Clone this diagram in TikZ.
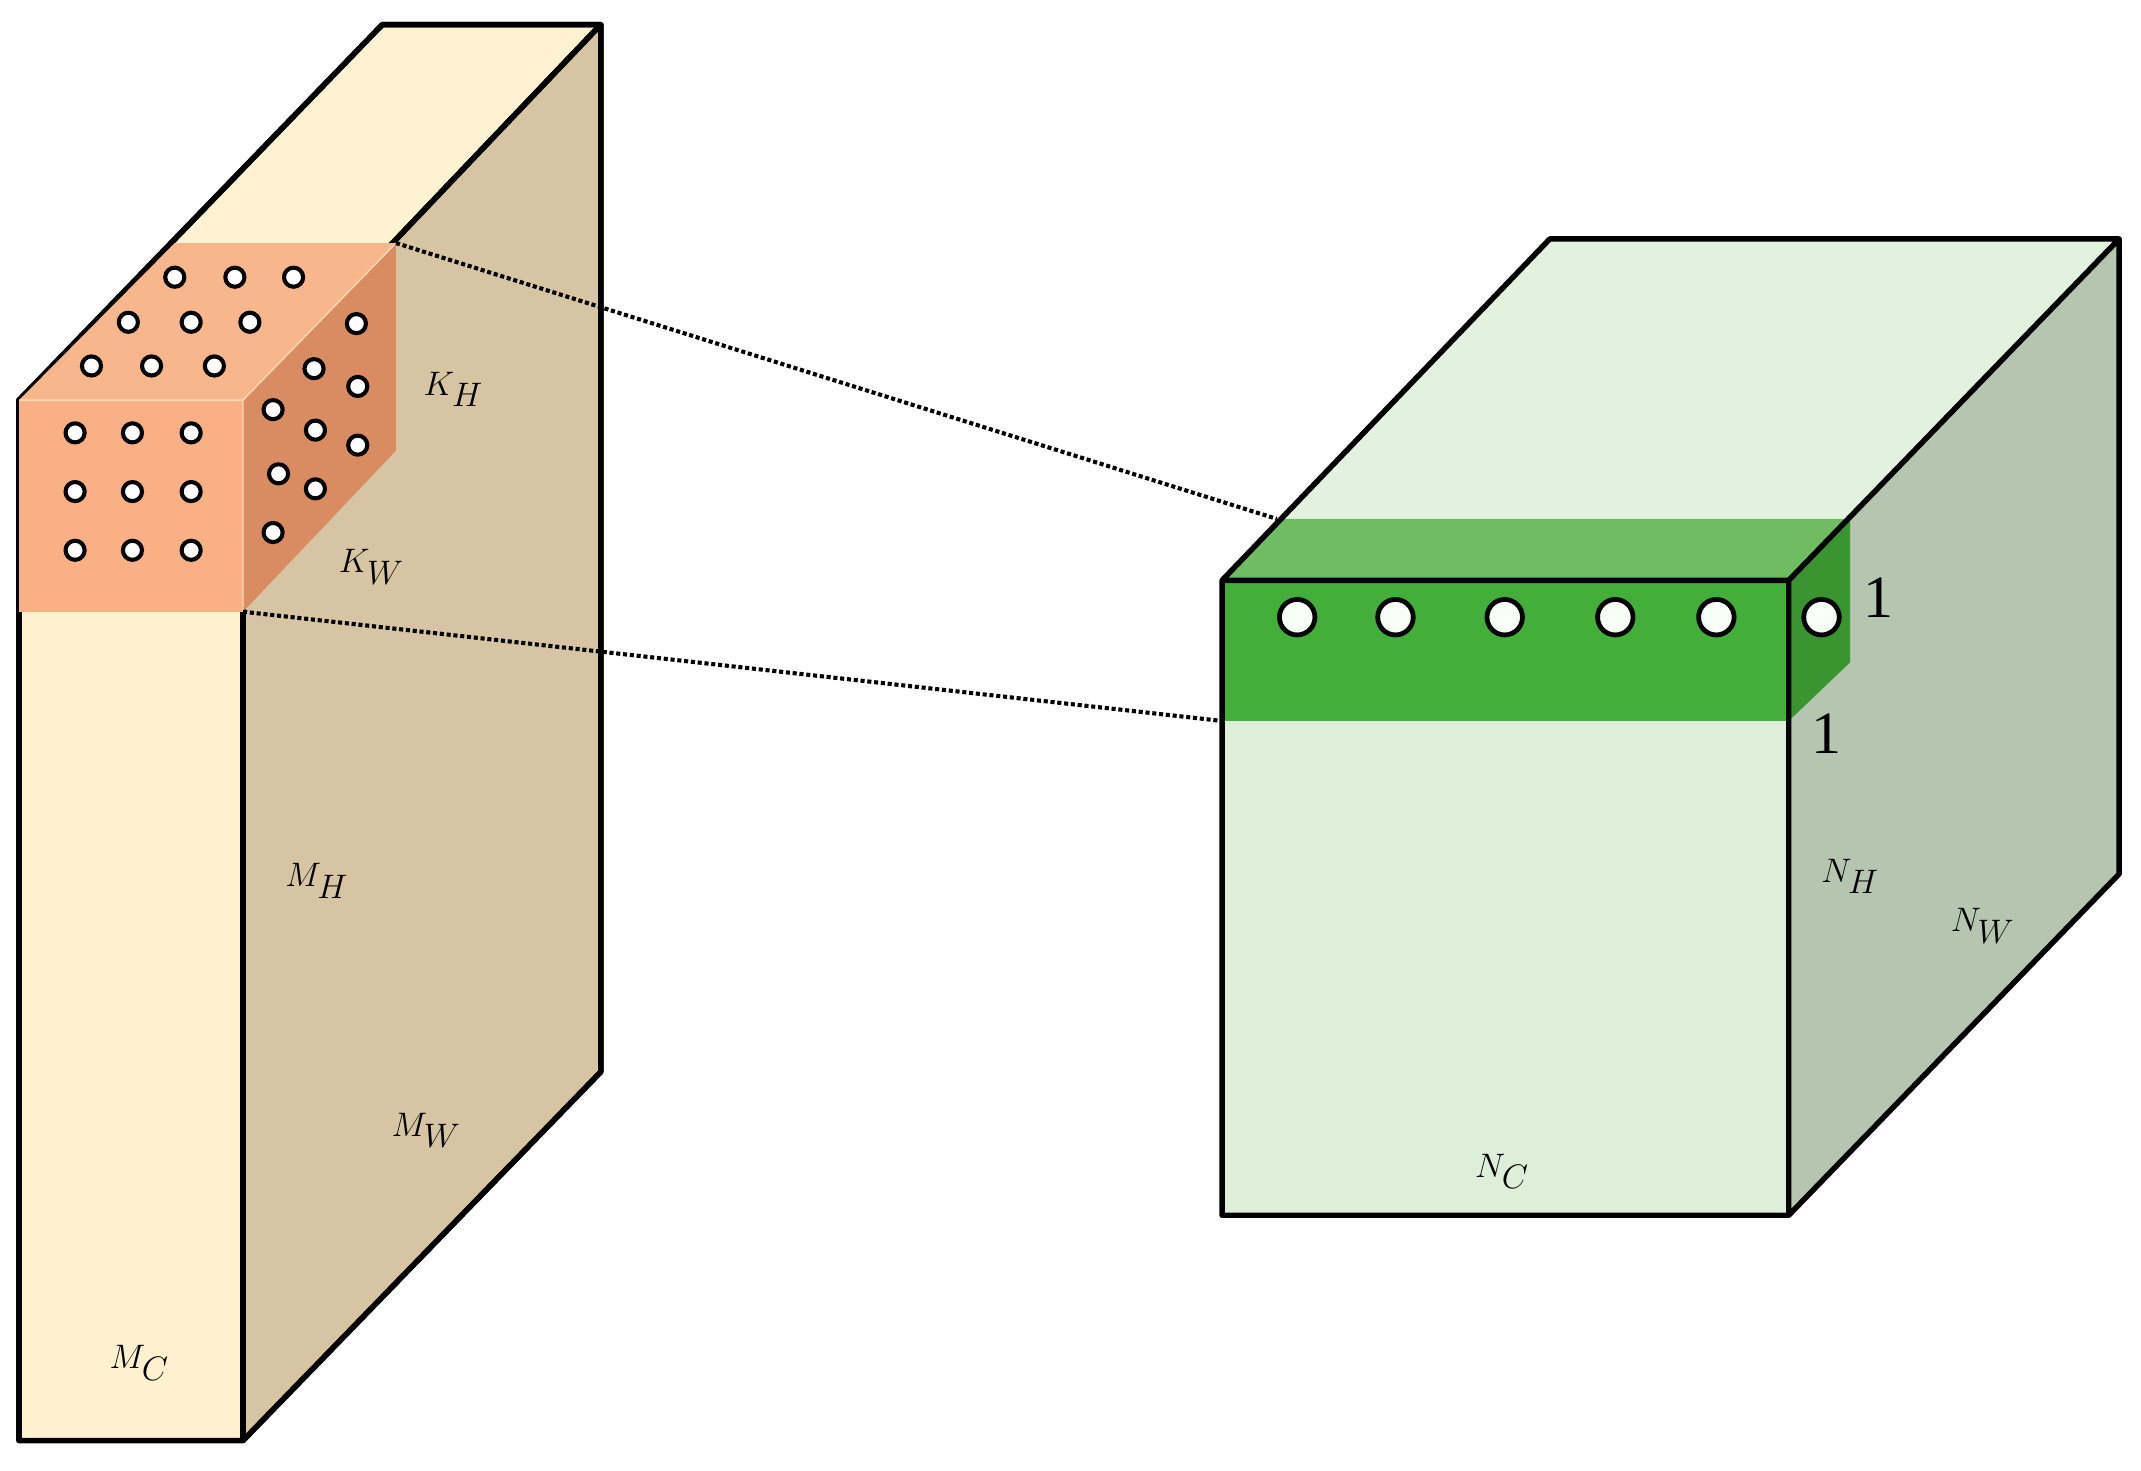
\documentclass[tikz,border=0pt]{standalone}
\usepackage{fontspec}
\setmainfont{Liberation Serif}
\begin{document}
\begin{tikzpicture}[x=1pt,y=-1pt,line join=round,
  edge/.style={draw=black,line width=4},
  dot/.style={circle,draw=black,fill=white,line width=3,inner sep=0,minimum size=14},
  gdot/.style={circle,draw=black,fill=white!85!green!20,line width=3.5,inner sep=0,minimum size=26},
  lab/.style={font=\fontsize{46}{46}\selectfont\itshape},
  num/.style={font=\fontsize{44}{44}\selectfont}]
\useasboundingbox (0,0) rectangle (1568,1077);
% left slab
\fill[edge,fill=yellow!10!orange!8!white,fill={rgb,255:red,255;green,242;blue,210}] (14,293)--(178,293)--(440,18)--(280,18)--cycle;
\fill[edge,fill={rgb,255:red,255;green,241;blue,205}] (14,293) rectangle (178,1055);
\fill[edge,fill={rgb,255:red,214;green,196;blue,162}] (178,293)--(440,18)--(440,785)--(178,1055)--cycle;
\draw[edge] (14,293)--(178,293)--(440,18)--(280,18)--cycle (14,293) rectangle (178,1055) (178,293)--(440,18)--(440,785)--(178,1055)--cycle;
% orange cube
\fill[fill={rgb,255:red,248;green,182;blue,140}] (14,293)--(178,293)--(290,178)--(128,178)--cycle;
\fill[fill={rgb,255:red,248;green,176;blue,132}] (14,293) rectangle (178,448);
\fill[fill={rgb,255:red,217;green,139;blue,98}] (178,293)--(290,178)--(290,330)--(178,448)--cycle;
\draw[white!70!orange,line width=1] (14,293)--(178,293)--(290,178) (178,293)--(178,448);
\foreach \x/\y in {55/317,97/317,140/317,55/360,97/360,140/360,55/403,97/403,140/403,
  128/203,172/203,215/203,94/236,140/236,183/236,67/268,111/268,157/268,
  261/237,230/270,262/283,200/300,231/315,262/326,204/347,231/358,200/390}
  \node[dot] at (\x,\y) {};
% right cube
\fill[fill={rgb,255:red,226;green,242;blue,222}] (895,425)--(1310,425)--(1552,175)--(1135,175)--cycle;
\fill[fill={rgb,255:red,221;green,239;blue,217}] (895,425) rectangle (1310,890);
\fill[fill={rgb,255:red,181;green,197;blue,176}] (1310,425)--(1552,175)--(1552,640)--(1310,890)--cycle;
% green band
\fill[fill={rgb,255:red,112;green,188;blue,99}] (895,425)--(1310,425)--(1355,380)--(935,380)--cycle;
\fill[fill={rgb,255:red,68;green,174;blue,58}] (895,425) rectangle (1310,528);
\fill[fill={rgb,255:red,58;green,148;blue,47}] (1310,425)--(1355,380)--(1355,485)--(1310,528)--cycle;
\draw[edge] (895,425)--(1310,425)--(1552,175)--(1135,175)--cycle (895,425) rectangle (1310,890) (1310,425)--(1552,175)--(1552,640)--(1310,890)--cycle;
\foreach \x in {950,1022,1102,1183,1257,1334} \node[gdot] at (\x,452) {};
% dotted connectors
\coordinate (a1) at (290,178); \coordinate (b1) at (935,380);
\coordinate (a2) at (178,448); \coordinate (b2) at (895,528);
\draw[dotted,line width=3] (a1)--(b1) (a2)--(b2);
% labels
\node[lab] at (332,285) {$K_H$};
\node[lab] at (272,415) {$K_W$};
\node[lab] at (232,645) {$M_H$};
\node[lab] at (312,828) {$M_W$};
\node[lab] at (102,998) {$M_C$};
\node[lab] at (1100,858) {$N_C$};
\node[lab] at (1355,642) {$N_H$};
\node[lab] at (1452,678) {$N_W$};
\node[num] at (1376,438) {1};
\node[num] at (1338,537) {1};
\end{tikzpicture}
\end{document}
